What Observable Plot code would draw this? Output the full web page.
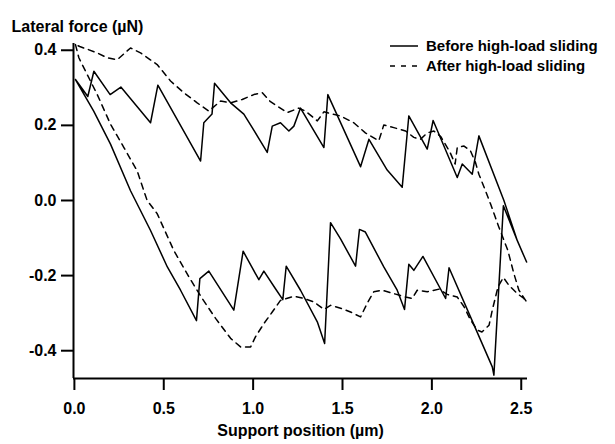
<!DOCTYPE html>
<html><head><meta charset="utf-8">
<script src="https://cdn.jsdelivr.net/npm/d3@7"></script>
<script src="https://cdn.jsdelivr.net/npm/@observablehq/plot@0.6"></script>
<style>
body{margin:0;background:#fff;}
#wrap{position:relative;width:615px;height:444px;font-family:"Liberation Sans",Arial,sans-serif;font-weight:bold;color:#000;}
.leg{position:absolute;left:390px;height:20px;line-height:20px;font-size:15px;display:flex;align-items:center;white-space:nowrap;}
.leg svg{margin-right:8px;}
</style></head><body><div id="wrap"></div>
<script>
const xTicks = [0, 0.5, 1, 1.5, 2, 2.5];
const yTicks = [-0.4, -0.2, 0, 0.2, 0.4];
const seriesNames = ["Before high-load sliding", "After high-load sliding"];
const xTitle = "Support position (µm)";
const yTitle = "Lateral force (µN)";

// Before (solid) – lower branch, left to right
const beforeLower = [
 [0.006,0.322],[0.108,0.238],[0.202,0.150],[0.314,0.026],[0.426,-0.080],[0.520,-0.177],
 [0.594,-0.239],[0.683,-0.320],[0.702,-0.208],[0.752,-0.188],[0.892,-0.292],[0.944,-0.135],
 [0.990,-0.175],[1.032,-0.211],[1.060,-0.188],[1.125,-0.235],[1.166,-0.264],[1.185,-0.175],
 [1.265,-0.239],[1.359,-0.323],[1.400,-0.381],[1.433,-0.059],[1.489,-0.102],[1.573,-0.175],
 [1.595,-0.077],[1.628,-0.084],[1.731,-0.177],[1.806,-0.239],[1.847,-0.290],[1.871,-0.170],
 [1.899,-0.186],[1.950,-0.149],[2.077,-0.261],[2.096,-0.179],[2.216,-0.310],[2.338,-0.443],
 [2.347,-0.465],[2.400,-0.014],[2.478,-0.107],[2.530,-0.164]
];
// Before (solid) – upper branch, left to right
const beforeUpper = [
 [0.006,0.322],[0.075,0.277],[0.109,0.344],[0.200,0.282],[0.260,0.302],[0.426,0.207],
 [0.467,0.307],[0.706,0.105],[0.724,0.207],[0.770,0.230],[0.784,0.312],[0.874,0.260],
 [0.948,0.230],[0.995,0.194],[1.040,0.159],[1.079,0.128],[1.107,0.198],[1.153,0.207],
 [1.200,0.185],[1.228,0.198],[1.265,0.246],[1.396,0.141],[1.418,0.282],[1.601,0.090],
 [1.648,0.163],[1.750,0.081],[1.834,0.035],[1.871,0.225],[1.974,0.137],[2.007,0.213],
 [2.142,0.061],[2.170,0.097],[2.226,0.070],[2.263,0.172],[2.403,0.000],[2.478,-0.107],
 [2.530,-0.164]
];
// After (dashed) – lower branch, left to right
const afterLower = [
 [0.006,0.415],[0.025,0.380],[0.072,0.335],[0.128,0.282],[0.202,0.203],[0.277,0.141],
 [0.351,0.079],[0.407,0.000],[0.463,-0.035],[0.556,-0.133],[0.640,-0.203],[0.715,-0.261],
 [0.790,-0.314],[0.874,-0.367],[0.930,-0.390],[0.986,-0.390],[1.013,-0.363],[1.060,-0.328],
 [1.107,-0.297],[1.153,-0.266],[1.228,-0.255],[1.284,-0.261],[1.340,-0.270],[1.396,-0.290],
 [1.433,-0.279],[1.498,-0.288],[1.545,-0.297],[1.601,-0.310],[1.638,-0.274],[1.675,-0.243],
 [1.722,-0.239],[1.787,-0.248],[1.853,-0.257],[1.890,-0.261],[1.918,-0.239],[1.974,-0.243],
 [2.040,-0.236],[2.086,-0.250],[2.142,-0.257],[2.180,-0.283],[2.216,-0.318],[2.254,-0.345],
 [2.280,-0.350],[2.320,-0.332],[2.338,-0.292],[2.370,-0.230],[2.400,-0.205],[2.431,-0.226],
 [2.478,-0.248],[2.515,-0.261],[2.530,-0.270]
];
// After (dashed) – upper branch, left to right
const afterUpper = [
 [0.006,0.415],[0.030,0.410],[0.128,0.393],[0.183,0.380],[0.240,0.375],[0.314,0.406],
 [0.370,0.393],[0.463,0.362],[0.538,0.318],[0.612,0.287],[0.687,0.260],[0.752,0.238],
 [0.818,0.265],[0.874,0.260],[0.939,0.269],[1.004,0.282],[1.051,0.287],[1.097,0.263],
 [1.191,0.234],[1.256,0.246],[1.293,0.238],[1.359,0.212],[1.396,0.236],[1.489,0.225],
 [1.563,0.207],[1.628,0.180],[1.703,0.159],[1.731,0.201],[1.787,0.194],[1.853,0.185],
 [1.899,0.168],[1.936,0.163],[1.974,0.180],[2.011,0.185],[2.050,0.170],[2.100,0.130],
 [2.130,0.097],[2.142,0.141],[2.180,0.145],[2.216,0.132],[2.244,0.101],[2.263,0.070],
 [2.300,0.026],[2.328,-0.009],[2.375,-0.071],[2.425,-0.133],[2.459,-0.195],[2.487,-0.239],
 [2.530,-0.270]
];

const toLoop = (lower, upper) => lower.concat(upper.slice().reverse()).map(([x, y]) => ({x, y}));
const before = toLoop(beforeLower, beforeUpper);
const after = toLoop(afterLower, afterUpper);

const xMin = -0.005, xMax = 2.535, yMin = -0.474, yMax = 0.418;
const fmt = d => d.toFixed(1);
const font = '"Liberation Sans", Arial, sans-serif';

const plot = Plot.plot({
  width: 615, height: 444,
  marginLeft: 73, marginRight: 88, marginTop: 43, marginBottom: 66,
  style: {fontFamily: font, fontSize: "16px", fontWeight: "bold", color: "#000", background: "#fff"},
  x: {domain: [xMin, xMax]},
  y: {domain: [yMin, yMax]},
  marks: [
    Plot.axisX({ticks: xTicks, tickFormat: fmt, tickSize: 12, tickPadding: 12, strokeWidth: 2, label: null, fontSize: 16}),
    Plot.axisY({ticks: yTicks, tickFormat: fmt, tickSize: 12, tickPadding: 5, strokeWidth: 2, label: null, fontSize: 16}),
    Plot.ruleX([xMin], {strokeWidth: 2}),
    Plot.ruleY([yMin], {strokeWidth: 2}),
    Plot.line(before, {x: "x", y: "y", stroke: "#000", strokeWidth: 1.5}),
    Plot.line(after, {x: "x", y: "y", stroke: "#000", strokeWidth: 1.5, strokeDasharray: "6,5"}),
    Plot.text([xTitle], {frameAnchor: "bottom", dy: 57, fontSize: 16, fontWeight: "bold"}),
    Plot.text([yTitle], {frameAnchor: "top-left", textAnchor: "start", dx: -62, dy: -23, fontSize: 16, fontWeight: "bold"})
  ]
});
const wrap = document.getElementById("wrap");
wrap.appendChild(plot);

const dashes = [null, "5,6"];
seriesNames.forEach((name, i) => {
  const d = document.createElement("div");
  d.className = "leg";
  d.style.top = (36 + i * 20) + "px";
  d.innerHTML = `<svg width="28" height="4"><line x1="0" x2="28" y1="2" y2="2" stroke="#000" stroke-width="1.5" ${dashes[i] ? `stroke-dasharray="${dashes[i]}"` : ""}/></svg><span>${name}</span>`;
  wrap.appendChild(d);
});
</script></body></html>
